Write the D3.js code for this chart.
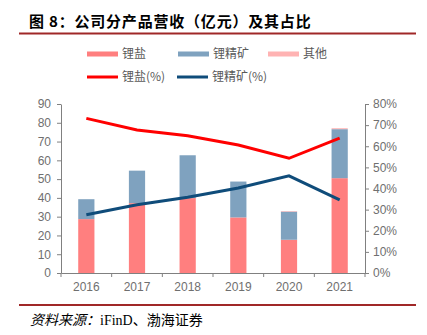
<!DOCTYPE html>
<html>
<head>
<meta charset="utf-8">
<script src="https://cdn.jsdelivr.net/npm/d3@7/dist/d3.min.js"></script>
<style>
  html, body { margin: 0; padding: 0; background: #fff; }
  svg { display: block; }
</style>
</head>
<body>
<svg id="chart" width="427" height="335"></svg>
<script>
// Revenue by product (100 million yuan) and share of total
const years = ["2016", "2017", "2018", "2019", "2020", "2021"];
const lithiumSalt = [28.7, 37.2, 39.9, 29.6, 17.7, 50.5];
const lithiumConc = [10.6, 17.3, 22.8, 19.1, 15.0, 26.1];
const others = [0, 0, 0, 0, 0.3, 0.5];
const saltShare = [73.2, 67.7, 65.0, 60.6, 54.3, 63.8];
const concShare = [27.6, 32.3, 35.9, 40.2, 46.0, 34.6];
const leftTicks = [0, 10, 20, 30, 40, 50, 60, 70, 80, 90];
const rightTicks = [0, 10, 20, 30, 40, 50, 60, 70, 80];

const colors = {
  salt: "#FF7F7F",
  conc: "#7FA2BF",
  other: "#FFB3B3",
  saltLine: "#FF0000",
  concLine: "#0F4C7A",
  axis: "#808080",
  tickText: "#6f6f6f",
  text: "#595959",
  rule: "#A02828"
};

const svg = d3.select("#chart");
const plotLeft = 61, plotRight = 365, plotTop = 104, plotBottom = 273;

const x = d3.scaleBand().domain(years).range([plotLeft, plotRight]).paddingInner(0.68).paddingOuter(0.34);
const xBand = d3.scaleBand().domain(years).range([plotLeft, plotRight]);
const yL = d3.scaleLinear().domain([0, 90]).range([plotBottom, plotTop]);
const yR = d3.scaleLinear().domain([0, 80]).range([plotBottom, plotTop]);

// Title and rules
svg.append("text")
  .attr("x", 29).attr("y", 27)
  .attr("font-family", "'Noto Sans CJK SC', sans-serif")
  .attr("font-weight", "bold").attr("font-size", 15).attr("letter-spacing", 0.8).attr("fill", "#000")
  .text("图 8：公司分产品营收（亿元）及其占比");
svg.append("line").attr("x1", 19).attr("x2", 416).attr("y1", 33.5).attr("y2", 33.5)
  .attr("stroke", colors.rule).attr("stroke-width", 2);
svg.append("line").attr("x1", 19).attr("x2", 416).attr("y1", 305).attr("y2", 305)
  .attr("stroke", colors.rule).attr("stroke-width", 2);

const foot = svg.append("text").attr("x", 30).attr("y", 325)
  .attr("font-family", "'Liberation Serif', 'Noto Sans CJK SC', serif")
  .attr("font-size", 14).attr("fill", "#000");
foot.append("tspan").attr("font-style", "italic").text("资料来源：");
foot.append("tspan").text("iFinD、渤海证券");

// Stacked bars
const stackData = years.map((yr, i) => ({ year: yr, salt: lithiumSalt[i], conc: lithiumConc[i], other: others[i] }));
const stack = d3.stack().keys(["salt", "conc", "other"])(stackData);
const keyColor = { salt: colors.salt, conc: colors.conc, other: colors.other };

svg.append("g").selectAll("g").data(stack).join("g")
  .attr("fill", d => keyColor[d.key])
  .selectAll("rect").data(d => d).join("rect")
  .attr("x", d => x(d.data.year))
  .attr("width", x.bandwidth())
  .attr("y", d => yL(d[1]))
  .attr("height", d => yL(d[0]) - yL(d[1]));

// Share lines
const line = d3.line().x((d, i) => xBand(years[i]) + xBand.bandwidth() / 2).y(d => yR(d));
svg.append("path").datum(saltShare).attr("d", line)
  .attr("fill", "none").attr("stroke", colors.saltLine).attr("stroke-width", 3);
svg.append("path").datum(concShare).attr("d", line)
  .attr("fill", "none").attr("stroke", colors.concLine).attr("stroke-width", 3);

// Axes
const axisFont = "'Liberation Sans', Arial, sans-serif";
function styleAxis(g) {
  g.selectAll("path, line").attr("stroke", colors.axis);
  g.selectAll("text").attr("fill", colors.tickText).attr("font-family", axisFont).attr("font-size", 12);
}

svg.append("g").attr("transform", `translate(${plotLeft},0)`)
  .call(d3.axisLeft(yL).tickValues(leftTicks).tickSize(4).tickSizeOuter(0).tickPadding(6))
  .call(styleAxis);

svg.append("g").attr("transform", `translate(${plotRight},0)`)
  .call(d3.axisRight(yR).tickValues(rightTicks).tickFormat(d => d + "%").tickSize(4).tickSizeOuter(0).tickPadding(4))
  .call(styleAxis);

const xAxis = svg.append("g").attr("transform", `translate(0,${plotBottom})`)
  .call(d3.axisBottom(xBand).tickSize(0).tickPadding(9))
  .call(styleAxis);
// tick marks between categories
xAxis.selectAll(".sep").data(d3.range(years.length + 1)).join("line")
  .attr("class", "sep")
  .attr("x1", i => plotLeft + i * xBand.step()).attr("x2", i => plotLeft + i * xBand.step())
  .attr("y1", 0).attr("y2", 4).attr("stroke", colors.axis);

// Legend
const legendFont = "'Noto Sans CJK SC', sans-serif";
const legendItems = [
  { label: "锂盐", color: colors.salt, type: "bar", x: 87, y: 54 },
  { label: "锂精矿", color: colors.conc, type: "bar", x: 178, y: 54 },
  { label: "其他", color: colors.other, type: "bar", x: 268, y: 54 },
  { label: "锂盐(%)", color: colors.saltLine, type: "line", x: 87, y: 77 },
  { label: "锂精矿(%)", color: colors.concLine, type: "line", x: 177, y: 77 }
];
const lg = svg.append("g").selectAll("g").data(legendItems).join("g")
  .attr("transform", d => `translate(${d.x},${d.y})`);
lg.filter(d => d.type === "bar").append("rect")
  .attr("x", 0).attr("y", -2.5).attr("width", 31).attr("height", 5).attr("fill", d => d.color);
lg.filter(d => d.type === "line").append("line")
  .attr("x1", 0).attr("x2", 31).attr("y1", 0).attr("y2", 0)
  .attr("stroke", d => d.color).attr("stroke-width", 3);
lg.append("text").attr("x", 35).attr("y", 0).attr("dy", "0.35em")
  .attr("font-family", legendFont).attr("font-size", 12).attr("fill", colors.text)
  .text(d => d.label);
</script>
</body>
</html>
